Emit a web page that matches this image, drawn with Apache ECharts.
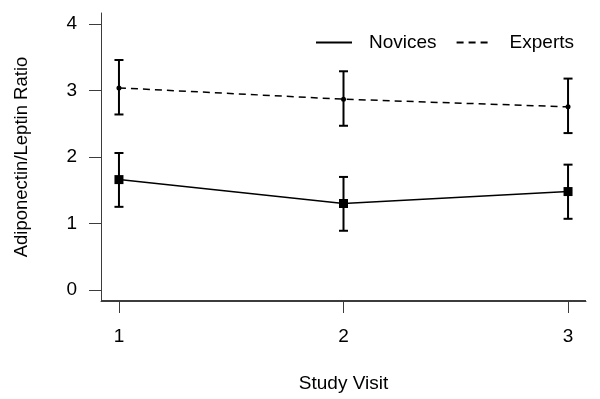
<!DOCTYPE html>
<html>
<head>
<meta charset="utf-8">
<script src="https://cdn.jsdelivr.net/npm/echarts@6/dist/echarts.min.js"></script>
<style>
	html, body { margin: 0; padding: 0; background: #fff; }
	#visitChart { width: 600px; height: 399px; }
</style>
</head>
<body>
<div id="visitChart"></div>
<script>
var visits = [1, 2, 3];
var novicesMean = [1.66, 1.30, 1.48];
var novicesLow = [1.25, 0.89, 1.07];
var novicesHigh = [2.06, 1.70, 1.885];
var expertsMean = [3.04, 2.87, 2.755];
var expertsLow = [2.64, 2.47, 2.36];
var expertsHigh = [3.46, 3.29, 3.18];
var yTicks = [0, 1, 2, 3, 4];

var fontName = 'Liberation Sans, Arial, sans-serif';
var axisColor = '#3c3c3c';

//[x, y] pairs for the lines
function toPoints(means) {
	var arr = new Array();
	for (var i = 0; i < visits.length; i++) {
		arr.push([visits[i], means[i]]);
	}
	return arr;
}

//[x, mean, low, high] for the error bars
function toBars(means, lows, highs) {
	var arr = new Array();
	for (var i = 0; i < visits.length; i++) {
		arr.push([visits[i], means[i], lows[i], highs[i]]);
	}
	return arr;
}

//error bar with caps plus the marker on the mean
function errorBarItem(marker) {
	return function(params, api) {
		var x = api.value(0);
		var mid = api.coord([x, api.value(1)]);
		var low = api.coord([x, api.value(2)]);
		var high = api.coord([x, api.value(3)]);
		var cap = 4.5;
		var line = { stroke: '#000', lineWidth: 2 };
		var children = [
			{ type: 'line', shape: { x1: low[0], y1: low[1], x2: high[0], y2: high[1] }, style: line },
			{ type: 'line', shape: { x1: low[0] - cap, y1: low[1], x2: low[0] + cap, y2: low[1] }, style: line },
			{ type: 'line', shape: { x1: high[0] - cap, y1: high[1], x2: high[0] + cap, y2: high[1] }, style: line }
		];
		if (marker == 'square') {
			children.push({ type: 'rect', shape: { x: mid[0] - 4.5, y: mid[1] - 4.5, width: 9, height: 9 }, style: { fill: '#000' } });
		} else {
			children.push({ type: 'circle', shape: { cx: mid[0], cy: mid[1], r: 2.5 }, style: { fill: '#000' } });
		}
		return { type: 'group', children: children };
	};
}

//bottom edge of the plot box, taken from the grid rect
function frameItem(params, api) {
	var box = params.coordSys;
	var y = Math.round(box.y + box.height) - 0.5;
	return {
		type: 'line',
		silent: true,
		shape: { x1: box.x, y1: y, x2: box.x + box.width, y2: y },
		style: { stroke: axisColor, lineWidth: 1 }
	};
}

var charts = echarts.init(document.getElementById('visitChart'));
var option = {
	animation: false,
	textStyle: { fontFamily: fontName },
	legend: {
		data: ['Novices', 'Experts'],
		right: 21,
		top: 28,
		itemWidth: 36,
		itemHeight: 14,
		itemGap: 19,
		itemStyle: { opacity: 0 }, //legend shows only the line sample
		textStyle: { fontSize: 19, color: '#000', fontFamily: fontName, padding: [0, 0, 0, 12] }
	},
	grid: {
		left: 101,
		right: 14,
		top: 13,
		bottom: 98,
		containLabel: false
	},
	xAxis: {
		type: 'value',
		min: 0.92,
		max: 3.08,
		name: 'Study Visit',
		nameLocation: 'middle',
		nameGap: 73,
		nameTextStyle: { fontSize: 19, color: '#000', fontFamily: fontName },
		axisLine: { show: true, onZero: false, lineStyle: { color: axisColor, width: 1 } },
		axisTick: { show: true, length: 12, customValues: visits },
		axisLabel: { customValues: visits, margin: 26, fontSize: 19, color: '#000', fontFamily: fontName },
		splitLine: { show: false }
	},
	yAxis: {
		type: 'value',
		min: -0.167,
		max: 4.167,
		name: 'Adiponectin/Leptin Ratio',
		nameLocation: 'middle',
		nameGap: 70,
		nameTextStyle: { fontSize: 18.5, color: '#000', fontFamily: fontName },
		axisLine: { show: true, onZero: false, lineStyle: { color: axisColor, width: 1 } },
		axisTick: { show: true, length: 12, customValues: yTicks },
		axisLabel: { customValues: yTicks, margin: 24, fontSize: 19, color: '#000', fontFamily: fontName },
		splitLine: { show: false }
	},
	series: [
		{
			name: 'Novices',
			type: 'line',
			symbol: 'none',
			data: toPoints(novicesMean),
			lineStyle: { color: '#000', width: 1.5, type: 'solid' },
			itemStyle: { color: '#000' }
		},
		{
			name: 'Experts',
			type: 'line',
			symbol: 'none',
			data: toPoints(expertsMean),
			lineStyle: { color: '#000', width: 1.5, type: [7, 5] },
			itemStyle: { color: '#000' }
		},
		{
			name: 'novicesBars',
			type: 'custom',
			renderItem: errorBarItem('square'),
			encode: { x: 0, y: [1, 2, 3] },
			data: toBars(novicesMean, novicesLow, novicesHigh),
			z: 3
		},
		{
			name: 'expertsBars',
			type: 'custom',
			renderItem: errorBarItem('dot'),
			encode: { x: 0, y: [1, 2, 3] },
			data: toBars(expertsMean, expertsLow, expertsHigh),
			z: 3
		},
		{
			name: 'frame',
			type: 'custom',
			renderItem: frameItem,
			clip: false,
			silent: true,
			encode: { x: 0, y: 1 },
			data: [[visits[0], expertsMean[0]]],
			z: 1
		}
	]
};
charts.setOption(option);
</script>
</body>
</html>
